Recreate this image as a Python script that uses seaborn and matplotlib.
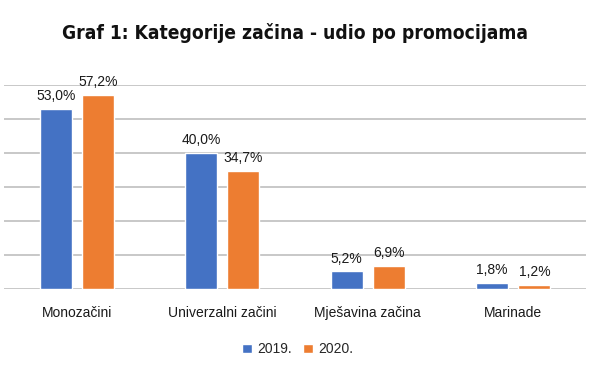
import pandas as pd
import seaborn as sns
import matplotlib.pyplot as plt

categories = ["Monozačini", "Univerzalni začini", "Mješavina začina", "Marinade"]
years = ["2019.", "2020."]
share_2019 = [53.0, 40.0, 5.2, 1.8]
share_2020 = [57.2, 34.7, 6.9, 1.2]

df = pd.DataFrame({
    "kategorija": categories * 2,
    "godina": [years[0]] * 4 + [years[1]] * 4,
    "udio": share_2019 + share_2020,
})

sns.set_style("white")
plt.rcParams['font.family'] = ['Liberation Sans', 'DejaVu Sans']

fig = plt.figure(figsize=(5.91, 3.68), dpi=100)
fig.set_facecolor('white')
ax = fig.add_axes([4 / 591, 1 - 289 / 368, 582 / 591, 204 / 368])

sns.barplot(
    data=df, x="kategorija", y="udio", hue="godina",
    order=categories, hue_order=years,
    palette=["#4472C4", "#ED7D31"],
    width=0.58, gap=0.24, saturation=1, ax=ax,
)

for container in ax.containers:
    ax.bar_label(container, labels=[f"{v:.1f}%".replace(".", ",") for v in container.datavalues],
                 padding=4, fontsize=10, color="#1a1a1a")

ax.set_ylim(0, 60)
ax.set_yticks(range(0, 61, 10))
ax.set_yticklabels([])
ax.tick_params(axis='y', length=0)
ax.tick_params(axis='x', length=0, labelsize=10, pad=12, colors="#1a1a1a")
ax.grid(axis='y', color="#c8c8c8", linewidth=1.4)
ax.set_axisbelow(True)
for s in ax.spines.values():
    s.set_visible(False)
ax.set_xlabel("")
ax.set_ylabel("")

ax.legend(loc="upper center", bbox_to_anchor=(294 / 582, -0.2), ncol=2, frameon=False,
          fontsize=10, handlelength=0.7, handleheight=0.7, handletextpad=0.4, columnspacing=0.8)

fig.text(295.5 / 591, 1 - 39 / 368, "Graf 1: Kategorije začina - udio po promocijama",
         ha="center", va="baseline", fontsize=13.8, fontweight="bold", color="#111111",
         family='DejaVu Sans', fontstretch='condensed')

plt.savefig("out.png", dpi=100)
